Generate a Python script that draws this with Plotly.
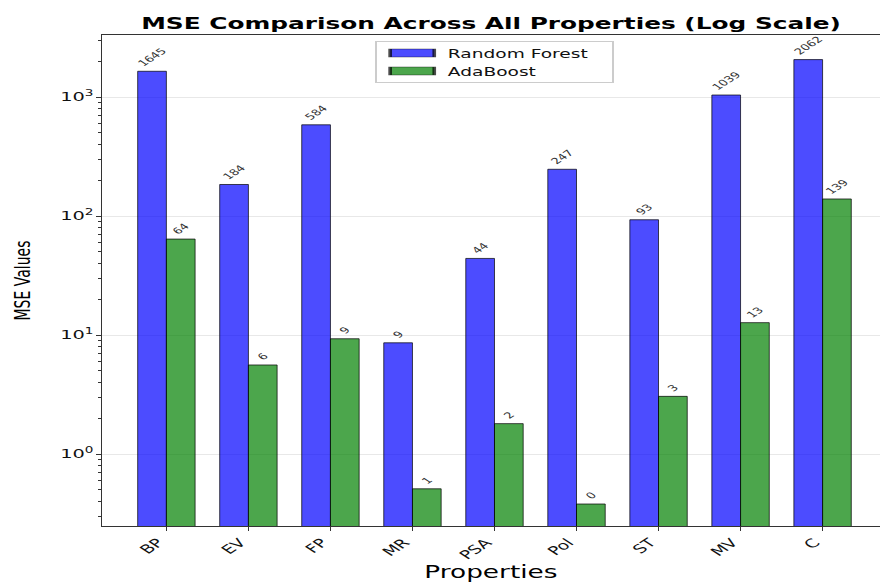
import plotly.graph_objects as go

# MSE per property for the two regressors
properties = ["BP", "EV", "FP", "MR", "PSA", "Pol", "ST", "MV", "C"]
rf_mse = [1645, 184, 584, 8.6, 44, 247, 93, 1039, 2062]
ada_mse = [64, 5.6, 9.3, 0.51, 1.8, 0.38, 3.05, 12.7, 139]

y_ticks = [1, 10, 100, 1000]
y_tick_text = ["10<sup>0</sup>", "10<sup>1</sup>", "10<sup>2</sup>", "10<sup>3</sup>"]
y_log_range = [-0.605, 3.521]

FONT = "DejaVu Sans"

# minor ticks at 2..9 x each decade inside the visible range
minor_vals = [m * 10 ** e for e in range(-1, 4) for m in range(2, 10)
              if 10 ** y_log_range[0] <= m * 10 ** e <= 10 ** y_log_range[1]]

fig = go.Figure()
fig.add_trace(go.Bar(
    name="Random Forest", x=properties, y=rf_mse,
    marker=dict(color="rgba(0,0,255,0.7)", line=dict(color="rgba(0,0,0,0.7)", width=1)),
    text=[f"{v:.0f}" for v in rf_mse], textposition="outside", textangle=-45,
    textfont=dict(family=FONT, size=8.5, color="#333"), constraintext="none",
    cliponaxis=False,
))
fig.add_trace(go.Bar(
    name="AdaBoost", x=properties, y=ada_mse,
    marker=dict(color="rgba(0,128,0,0.7)", line=dict(color="rgba(0,0,0,0.7)", width=1)),
    text=[f"{v:.0f}" for v in ada_mse], textposition="outside", textangle=-45,
    textfont=dict(family=FONT, size=8.5, color="#333"), constraintext="none",
    cliponaxis=False,
))

fig.update_layout(
    width=880, height=583,
    margin=dict(l=102, r=0, t=35, b=57),
    paper_bgcolor="white", plot_bgcolor="white",
    font=dict(family=FONT, color="#111"),
    barmode="group", bargap=0.3, bargroupgap=0,
    title=dict(text="MSE Comparison Across All Properties (Log Scale)",
               font=dict(family=FONT, size=16, weight="bold", color="black"),
               x=0.5, xref="paper", xanchor="center",
               y=1 - 23 / 583, yref="container", yanchor="middle"),
    showlegend=True,
    legend=dict(x=(375 - 102) / 778, y=(526 - 41) / 491, xanchor="left", yanchor="top",
                bgcolor="rgba(255,255,255,0.8)", bordercolor="#cccccc", borderwidth=1,
                font=dict(family=FONT, size=12, color="#111"),
                itemwidth=36, traceorder="normal"),
    xaxis=dict(type="category", categoryorder="array", categoryarray=properties,
               range=[-0.785, 8.70], showgrid=False, zeroline=False,
               showline=True, linecolor="#333", linewidth=1, mirror=True,
               ticks="outside", ticklen=4, tickcolor="#333", tickangle=-45,
               ticklabelshift=-6,
               tickfont=dict(family=FONT, size=12, color="#111")),
    yaxis=dict(type="log", range=y_log_range, tickmode="array",
               tickvals=y_ticks, ticktext=y_tick_text,
               showgrid=True, gridcolor="#e8e8e8", gridwidth=1, zeroline=False,
               showline=True, linecolor="#333", linewidth=1,
               ticks="outside", ticklen=5, tickcolor="#333",
               tickfont=dict(family=FONT, size=12.5, color="#111"),
               minor=dict(tickmode="array", tickvals=minor_vals, ticks="outside",
                          ticklen=3, tickcolor="#333", showgrid=False)),
    annotations=[
        dict(text="Properties", xref="paper", yref="paper", x=0.5, y=-46 / 491,
             xanchor="center", yanchor="middle", showarrow=False,
             font=dict(family=FONT, size=17, color="black")),
        dict(text="MSE Values", xref="paper", yref="paper", x=0, y=0.5,
             xshift=-80, xanchor="center", yanchor="middle", textangle=-90,
             showarrow=False, font=dict(family=FONT, size=14, color="black")),
    ],
)

# Text in this figure is set wide: stretch every label horizontally about its anchor,
# and lay the legend out as a compact box with wide colour patches.
stretch_js = r"""
var gd = document.getElementById('{plot_id}');
var S = 1.55;
function squeeze(el, sx, sy, useBox) {
  var svg = el.ownerSVGElement;
  var P = el.parentNode.getCTM();
  var E = el.getCTM();
  if (!svg || !P || !E) return;
  var p = svg.createSVGPoint();
  if (useBox) { var b = el.getBBox(); p.x = b.x + b.width / 2; p.y = b.y + b.height / 2; }
  else { p.x = parseFloat(el.getAttribute('x')) || 0; p.y = parseFloat(el.getAttribute('y')) || 0; }
  var q = p.matrixTransform(E);
  var M = svg.createSVGMatrix().translate(q.x, q.y).scaleNonUniform(sx, sy).translate(-q.x, -q.y);
  var T = P.inverse().multiply(M).multiply(E);
  el.setAttribute('transform', 'matrix(' + [T.a, T.b, T.c, T.d, T.e, T.f].join(',') + ')');
}
gd.querySelectorAll('text.bartext').forEach(function (el) { squeeze(el, S, 1, true); });
gd.querySelectorAll('g.xtick text, g.ytick text, text.gtitle').forEach(function (el) { squeeze(el, S, 1, false); });
gd.querySelectorAll('text.annotation-text').forEach(function (el) { squeeze(el, S, 1, true); });
gd.querySelectorAll('g.legend g.legendpoints path').forEach(function (el) { squeeze(el, 2.37, 0.67, true); });
var lg = gd.querySelector('g.legend');
if (lg) {
  var bg = lg.querySelector('rect.bg');
  var by = 0;
  if (bg) {
    by = parseFloat(bg.getAttribute('y')) || 0;
    bg.setAttribute('width', 153);
    bg.setAttribute('height', 41);
  }
  lg.querySelectorAll('g.traces').forEach(function (g, i) {
    var t = g.getAttribute('transform') || '';
    var m = /translate\(\s*([-\d.e]+)[ ,]+([-\d.e]+)\s*\)/.exec(t);
    var x = m ? parseFloat(m[1]) : 0;
    g.setAttribute('transform', 'translate(' + x + ',' + (by + 11.5 + 18 * i) + ')');
  });
  lg.setAttribute('transform', (lg.getAttribute('transform') || '') + ' scale(' + S + ',1)');
}
"""

fig.write_html("out.html", post_script=stretch_js)
